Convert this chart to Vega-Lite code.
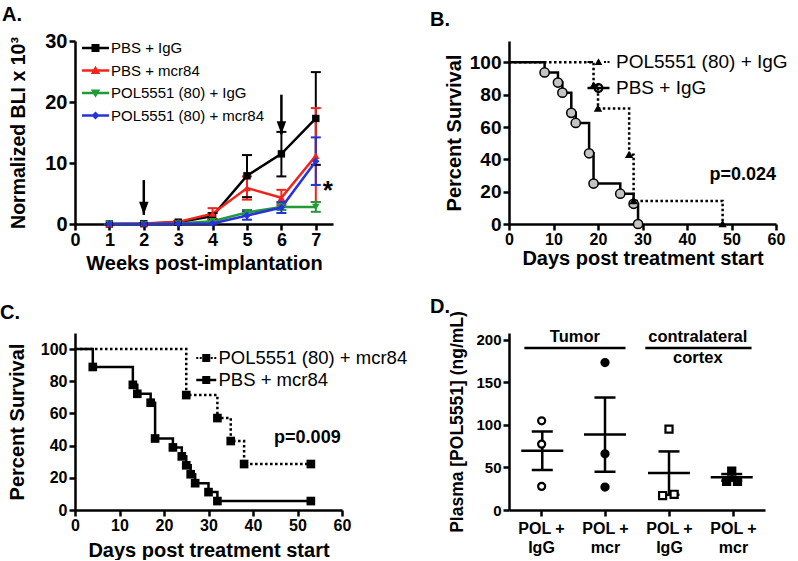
{
  "$schema": "https://vega.github.io/schema/vega-lite/v6.json",
  "background": "white",
  "padding": {"left": 0, "top": 5, "right": 0, "bottom": 0},
  "config": {
    "font": "Liberation Sans",
    "view": {"stroke": null},
    "axis": {"grid": false, "domainColor": "black", "domainWidth": 2.5, "tickColor": "black", "tickWidth": 2.5, "tickSize": 6, "tickCount": 20, "format": "d", "labelColor": "black", "labelFont": "Liberation Sans", "labelFontWeight": "bold", "labelFontSize": 16, "labelPadding": 1, "titleColor": "black", "titleFont": "Liberation Sans", "titleFontWeight": "bold", "titleFontSize": 20, "labelFlush": false, "labelOverlap": false},
    "legend": {"labelColor": "black", "labelFont": "Liberation Sans", "labelFontWeight": "normal", "symbolStrokeWidth": 0, "labelLimit": 400},
    "title": {"anchor": "start", "frame": "group", "font": "Liberation Sans", "fontSize": 20, "fontWeight": "bold", "color": "black"}
  },
  "resolve": {"scale": {"color": "independent", "fill": "independent", "shape": "independent", "size": "independent", "strokeDash": "independent"}},
  "datasets": {
    "bli": [
      {"week": 1, "series": "PBS + IgG", "mean": 0, "lo": 0, "hi": 0},
      {"week": 2, "series": "PBS + IgG", "mean": 0.05, "lo": 0, "hi": 0.1},
      {"week": 3, "series": "PBS + IgG", "mean": 0.3, "lo": 0.2, "hi": 0.45},
      {"week": 4, "series": "PBS + IgG", "mean": 1.3, "lo": 0.8, "hi": 1.8},
      {"week": 5, "series": "PBS + IgG", "mean": 7.9, "lo": 4.4, "hi": 11.3},
      {"week": 6, "series": "PBS + IgG", "mean": 11.5, "lo": 7.8, "hi": 15.1},
      {"week": 7, "series": "PBS + IgG", "mean": 17.3, "lo": 9.7, "hi": 24.9},
      {"week": 1, "series": "PBS + mcr84", "mean": 0, "lo": 0, "hi": 0},
      {"week": 2, "series": "PBS + mcr84", "mean": 0.1, "lo": 0.05, "hi": 0.15},
      {"week": 3, "series": "PBS + mcr84", "mean": 0.35, "lo": 0.2, "hi": 0.5},
      {"week": 4, "series": "PBS + mcr84", "mean": 1.7, "lo": 0.8, "hi": 2.6},
      {"week": 5, "series": "PBS + mcr84", "mean": 5.9, "lo": 4.0, "hi": 7.8},
      {"week": 6, "series": "PBS + mcr84", "mean": 4.3, "lo": 3.0, "hi": 5.6},
      {"week": 7, "series": "PBS + mcr84", "mean": 11.2, "lo": 3.6, "hi": 19.0},
      {"week": 1, "series": "POL5551 (80) + IgG", "mean": 0, "lo": 0, "hi": 0},
      {"week": 2, "series": "POL5551 (80) + IgG", "mean": 0, "lo": 0, "hi": 0},
      {"week": 3, "series": "POL5551 (80) + IgG", "mean": 0.1, "lo": 0.05, "hi": 0.15},
      {"week": 4, "series": "POL5551 (80) + IgG", "mean": 0.45, "lo": 0.25, "hi": 0.65},
      {"week": 5, "series": "POL5551 (80) + IgG", "mean": 1.9, "lo": 1.5, "hi": 2.3},
      {"week": 6, "series": "POL5551 (80) + IgG", "mean": 2.8, "lo": 2.3, "hi": 3.3},
      {"week": 7, "series": "POL5551 (80) + IgG", "mean": 2.8, "lo": 2.0, "hi": 3.6},
      {"week": 1, "series": "POL5551 (80) + mcr84", "mean": 0, "lo": 0, "hi": 0},
      {"week": 2, "series": "POL5551 (80) + mcr84", "mean": 0, "lo": 0, "hi": 0},
      {"week": 3, "series": "POL5551 (80) + mcr84", "mean": 0.05, "lo": 0.02, "hi": 0.08},
      {"week": 4, "series": "POL5551 (80) + mcr84", "mean": 0.1, "lo": 0.05, "hi": 0.15},
      {"week": 5, "series": "POL5551 (80) + mcr84", "mean": 1.4, "lo": 0.7, "hi": 2.1},
      {"week": 6, "series": "POL5551 (80) + mcr84", "mean": 2.7, "lo": 1.8, "hi": 3.6},
      {"week": 7, "series": "POL5551 (80) + mcr84", "mean": 10.3, "lo": 6.4, "hi": 14.2}
    ],
    "arrows": [
      {"week": 2, "top": 7.2, "tip": 1.5},
      {"week": 6, "top": 21.2, "tip": 14.7}
    ],
    "stars": [{"x": 7.35, "y": 5.4, "label": "*"}],
    "pvals": [
      {"panel": "B", "x": 60, "y": 30.5, "label": "p=0.024"},
      {"panel": "C", "x": 59.7, "y": 44.7, "label": "p=0.009"}
    ],
    "kmB": [
      {"grp": "PBS + IgG", "day": 0, "pct": 100, "m": 0},
      {"grp": "PBS + IgG", "day": 8, "pct": 93.75, "m": 1},
      {"grp": "PBS + IgG", "day": 11, "pct": 87.5, "m": 1},
      {"grp": "PBS + IgG", "day": 12, "pct": 81.25, "m": 1},
      {"grp": "PBS + IgG", "day": 14, "pct": 68.75, "m": 1},
      {"grp": "PBS + IgG", "day": 15, "pct": 62.5, "m": 1},
      {"grp": "PBS + IgG", "day": 18, "pct": 43.75, "m": 1},
      {"grp": "PBS + IgG", "day": 19, "pct": 25, "m": 1},
      {"grp": "PBS + IgG", "day": 25, "pct": 18.75, "m": 1},
      {"grp": "PBS + IgG", "day": 28, "pct": 12.5, "m": 1},
      {"grp": "PBS + IgG", "day": 29, "pct": 0, "m": 1},
      {"grp": "POL5551 (80) + IgG", "day": 0, "pct": 100, "m": 0},
      {"grp": "POL5551 (80) + IgG", "day": 19, "pct": 85.71, "m": 1},
      {"grp": "POL5551 (80) + IgG", "day": 20, "pct": 71.43, "m": 1},
      {"grp": "POL5551 (80) + IgG", "day": 27, "pct": 42.86, "m": 1},
      {"grp": "POL5551 (80) + IgG", "day": 28, "pct": 14.29, "m": 1},
      {"grp": "POL5551 (80) + IgG", "day": 48, "pct": 0, "m": 1}
    ],
    "kmC": [
      {"grp": "PBS + mcr84", "day": 0, "pct": 100, "m": 0},
      {"grp": "PBS + mcr84", "day": 4, "pct": 88.89, "m": 1},
      {"grp": "PBS + mcr84", "day": 13, "pct": 77.78, "m": 1},
      {"grp": "PBS + mcr84", "day": 14, "pct": 72.22, "m": 1},
      {"grp": "PBS + mcr84", "day": 17, "pct": 66.67, "m": 1},
      {"grp": "PBS + mcr84", "day": 18, "pct": 44.44, "m": 1},
      {"grp": "PBS + mcr84", "day": 22, "pct": 38.89, "m": 1},
      {"grp": "PBS + mcr84", "day": 24, "pct": 33.33, "m": 1},
      {"grp": "PBS + mcr84", "day": 25, "pct": 27.78, "m": 1},
      {"grp": "PBS + mcr84", "day": 26, "pct": 22.22, "m": 1},
      {"grp": "PBS + mcr84", "day": 27, "pct": 16.67, "m": 1},
      {"grp": "PBS + mcr84", "day": 30, "pct": 11.11, "m": 1},
      {"grp": "PBS + mcr84", "day": 32, "pct": 5.56, "m": 1},
      {"grp": "PBS + mcr84", "day": 53, "pct": 5.56, "m": 1},
      {"grp": "POL5551 (80) + mcr84", "day": 0, "pct": 100, "m": 0},
      {"grp": "POL5551 (80) + mcr84", "day": 25, "pct": 71.43, "m": 1},
      {"grp": "POL5551 (80) + mcr84", "day": 32, "pct": 57.14, "m": 1},
      {"grp": "POL5551 (80) + mcr84", "day": 35, "pct": 42.86, "m": 1},
      {"grp": "POL5551 (80) + mcr84", "day": 38, "pct": 28.57, "m": 1},
      {"grp": "POL5551 (80) + mcr84", "day": 53, "pct": 28.57, "m": 1}
    ],
    "plasma": [
      {"cond": "c1", "xpos": 1.01, "value": 104.9},
      {"cond": "c1", "xpos": 1.01, "value": 77.5},
      {"cond": "c1", "xpos": 1.01, "value": 27.8},
      {"cond": "c2", "xpos": 2.0, "value": 173.4},
      {"cond": "c2", "xpos": 2.0, "value": 66.1},
      {"cond": "c2", "xpos": 2.0, "value": 27.0},
      {"cond": "c3", "xpos": 3.0, "value": 95.1},
      {"cond": "c3", "xpos": 2.9, "value": 17.0},
      {"cond": "c3", "xpos": 3.08, "value": 18.5},
      {"cond": "c4", "xpos": 3.98, "value": 45.8},
      {"cond": "c4", "xpos": 3.9, "value": 33.7},
      {"cond": "c4", "xpos": 4.07, "value": 33.7}
    ],
    "plasmaStats": [
      {"cond": "c1", "pos": 1.02, "mean": 69.7, "lo": 47.0, "hi": 92.4},
      {"cond": "c2", "pos": 2.0, "mean": 88.8, "lo": 45.0, "hi": 132.3},
      {"cond": "c3", "pos": 3.0, "mean": 43.4, "lo": 17.9, "hi": 68.9},
      {"cond": "c4", "pos": 3.98, "mean": 38.4, "lo": 34.5, "hi": 42.3}
    ],
    "groupsD": [
      {"label": "Tumor", "x1": 0.74, "x2": 2.32, "xc": 1.53, "yl": 190.6, "yt": 194.5},
      {"label": "contralateral|cortex", "x1": 2.63, "x2": 4.29, "xc": 3.45, "yl": 190.6, "yt": 194.5}
    ]
  },
  "columns": 2,
  "spacing": {"row": 109, "column": 167},
  "bounds": "flush",
  "concat": [
    {
      "width": 258,
      "height": 183,
      "title": {"text": "A.", "dx": -73, "offset": 6},
      "layer": [
        {
          "data": {"name": "bli"},
          "encoding": {
            "x": {"field": "week", "type": "quantitative", "scale": {"domain": [0, 7.5], "nice": false},
                  "axis": {"values": [0, 1, 2, 3, 4, 5, 6, 7], "tickCount": 20, "format": "d", "title": "Weeks post-implantation", "labelFontSize": 18, "titlePadding": 4, "labelPadding": 1, "labelOverlap": false, "labelFlush": false}},
            "color": {"field": "series", "type": "nominal",
                      "scale": {"domain": ["PBS + IgG", "PBS + mcr84", "POL5551 (80) + IgG", "POL5551 (80) + mcr84"], "range": ["#000000", "#f2231c", "#23993a", "#2433dc"]},
                      "legend": null}
          },
          "layer": [
            {"mark": {"type": "rule", "strokeWidth": 2},
             "encoding": {"y": {"field": "lo", "type": "quantitative", "scale": {"domain": [0, 30], "nice": false},
                                "axis": {"values": [0, 10, 20, 30], "tickCount": 20, "format": "d", "title": "Normalized BLI x 10³", "labelFontSize": 20, "titleFontSize": 19.5, "titlePadding": 16, "labelPadding": 2, "labelOverlap": false}},
                          "y2": {"field": "hi"}}},
            {"mark": {"type": "tick", "orient": "horizontal", "size": 10, "thickness": 2, "opacity": 1},
             "encoding": {"y": {"field": "lo", "type": "quantitative"}}},
            {"mark": {"type": "tick", "orient": "horizontal", "size": 10, "thickness": 2, "opacity": 1},
             "encoding": {"y": {"field": "hi", "type": "quantitative"}}},
            {"mark": {"type": "line", "strokeWidth": 2.5},
             "encoding": {"y": {"field": "mean", "type": "quantitative"}}},
            {"mark": {"type": "point", "filled": true, "opacity": 1, "size": 55},
             "encoding": {"y": {"field": "mean", "type": "quantitative"},
                          "shape": {"field": "series", "type": "nominal",
                                    "scale": {"domain": ["PBS + IgG", "PBS + mcr84", "POL5551 (80) + IgG", "POL5551 (80) + mcr84"], "range": ["square", "triangle-up", "triangle-down", "diamond"]},
                                    "legend": null}}}
          ]
        },
        {
          "data": {"name": "arrows"},
          "layer": [
            {"mark": {"type": "rule", "strokeWidth": 2.5, "color": "black"},
             "encoding": {"x": {"field": "week", "type": "quantitative"}, "y": {"field": "top", "type": "quantitative"}, "y2": {"field": "tip"}}},
            {"mark": {"type": "point", "shape": "M0,0L-0.95,-2.6L0.95,-2.6Z", "size": 100, "filled": true, "color": "black", "opacity": 1},
             "encoding": {"x": {"field": "week", "type": "quantitative"}, "y": {"field": "tip", "type": "quantitative"}}}
          ]
        },
        {
          "data": {"name": "stars"},
          "mark": {"type": "text", "fontSize": 26, "fontWeight": "bold", "color": "black"},
          "encoding": {"x": {"field": "x", "type": "quantitative"}, "y": {"field": "y", "type": "quantitative"}, "text": {"field": "label"}}
        },
        {
          "data": {"name": "bli"},
          "transform": [{"filter": "false"}],
          "mark": {"type": "point", "filled": true, "opacity": 1, "size": 100},
          "encoding": {
            "color": {"field": "series", "type": "nominal",
                      "scale": {"domain": ["PBS + IgG", "PBS + mcr84", "POL5551 (80) + IgG", "POL5551 (80) + mcr84"], "range": ["#000000", "#f2231c", "#23993a", "#2433dc"]},
                      "legend": {"orient": "none", "legendX": 13, "legendY": -0.5, "title": null, "labelFontSize": 15, "symbolSize": 100, "symbolStrokeWidth": 0, "labelOffset": 8, "rowPadding": 6.5, "padding": 0, "labelLimit": 400}},
            "shape": {"field": "series", "type": "nominal",
                      "scale": {"domain": ["PBS + IgG", "PBS + mcr84", "POL5551 (80) + IgG", "POL5551 (80) + mcr84"],
                                "range": ["M-2.7,-0.25V0.25H2.7V-0.25Z M-0.8,-0.8V0.8H0.8V-0.8Z",
                                          "M-2.7,-0.25V0.25H2.7V-0.25Z M0,-0.95L-0.95,0.7L0.95,0.7Z",
                                          "M-2.7,-0.25V0.25H2.7V-0.25Z M0,0.95L0.95,-0.7L-0.95,-0.7Z",
                                          "M-2.7,-0.25V0.25H2.7V-0.25Z M0,-0.8L-0.8,0L0,0.8L0.8,0Z"]},
                      "legend": {"orient": "none", "legendX": 13, "legendY": -0.5, "title": null, "labelFontSize": 15, "symbolSize": 100, "symbolStrokeWidth": 0, "labelOffset": 8, "rowPadding": 6.5, "padding": 0, "labelLimit": 400}}
          }
        }
      ],
      "resolve": {"scale": {"color": "independent", "shape": "independent"}}
    },
    {
      "width": 267,
      "height": 183,
      "title": {"text": "B.", "dx": -79, "offset": 11},
      "layer": [
        {
          "data": {"name": "kmB"},
          "encoding": {
            "x": {"field": "day", "type": "quantitative", "scale": {"domain": [0, 60], "nice": false},
                  "axis": {"values": [0, 10, 20, 30, 40, 50, 60], "tickCount": 20, "format": "d", "title": "Days post treatment start", "titlePadding": 1, "labelOverlap": false, "labelFlush": false}},
            "y": {"field": "pct", "type": "quantitative", "scale": {"domain": [0, 113.2], "nice": false},
                  "axis": {"values": [0, 20, 40, 60, 80, 100], "tickCount": 20, "format": "d", "title": "Percent Survival", "labelFontSize": 19, "titlePadding": 5, "labelPadding": 2, "labelOverlap": false}}
          },
          "layer": [
            {"mark": {"type": "line", "interpolate": "step-after", "strokeWidth": 2.5, "color": "black"},
             "encoding": {"strokeDash": {"field": "grp", "type": "nominal", "scale": {"domain": ["POL5551 (80) + IgG", "PBS + IgG"], "range": [[2.5, 2.5], [1, 0]]}, "legend": null}}},
            {"transform": [{"filter": "datum.m == 1"}],
             "mark": {"type": "point", "opacity": 1, "stroke": "black", "strokeWidth": 1.5},
             "encoding": {
               "shape": {"field": "grp", "type": "nominal", "scale": {"domain": ["POL5551 (80) + IgG", "PBS + IgG"], "range": ["triangle-up", "circle"]}, "legend": null},
               "fill": {"field": "grp", "type": "nominal", "scale": {"domain": ["POL5551 (80) + IgG", "PBS + IgG"], "range": ["black", "#c4c4c4"]}, "legend": null},
               "size": {"field": "grp", "type": "nominal", "scale": {"domain": ["POL5551 (80) + IgG", "PBS + IgG"], "range": [35, 85]}, "legend": null}
             }}
          ]
        },
        {
          "data": {"name": "pvals"},
          "transform": [{"filter": "datum.panel == 'B'"}],
          "mark": {"type": "text", "align": "right", "fontSize": 18, "fontWeight": "bold", "color": "black"},
          "encoding": {"x": {"field": "x", "type": "quantitative"}, "y": {"field": "y", "type": "quantitative"}, "text": {"field": "label"}}
        },
        {
          "data": {"name": "kmB"},
          "transform": [{"filter": "false"}],
          "mark": {"type": "point", "filled": true, "opacity": 1, "size": 100, "color": "black"},
          "encoding": {
            "shape": {"field": "grp", "type": "nominal",
                      "scale": {"domain": ["POL5551 (80) + IgG", "PBS + IgG"],
                                "range": ["M-2.2,-0.2V0.2H-1.8V-0.2Z M-1.5,-0.2V0.2H-1.1V-0.2Z M1.1,-0.2V0.2H1.5V-0.2Z M1.8,-0.2V0.2H2.2V-0.2Z M0,-0.75L-0.75,0.6L0.75,0.6Z",
                                          "M-2.2,-0.25V0.25H2.2V-0.25Z M-1,0A1,1 0 1,0 1,0A1,1 0 1,0 -1,0Z M-0.6,0A0.6,0.6 0 1,1 0.6,0A0.6,0.6 0 1,1 -0.6,0Z"]},
                      "legend": {"orient": "none", "legendX": 80, "legendY": 11.5, "title": null, "labelFontSize": 19, "symbolSize": 100, "symbolStrokeWidth": 0, "labelOffset": 8, "rowPadding": 6, "padding": 0, "labelLimit": 400}}
          }
        }
      ],
      "resolve": {"scale": {"shape": "independent"}}
    },
    {
      "width": 267,
      "height": 177,
      "title": {"text": "C.", "dx": -75, "offset": 10},
      "layer": [
        {
          "data": {"name": "kmC"},
          "encoding": {
            "x": {"field": "day", "type": "quantitative", "scale": {"domain": [0, 60], "nice": false},
                  "axis": {"values": [0, 10, 20, 30, 40, 50, 60], "tickCount": 20, "format": "d", "title": "Days post treatment start", "titlePadding": 7, "labelOverlap": false, "labelFlush": false}},
            "y": {"field": "pct", "type": "quantitative", "scale": {"domain": [0, 110], "nice": false},
                  "axis": {"values": [0, 20, 40, 60, 80, 100], "tickCount": 20, "format": "d", "title": "Percent Survival", "titlePadding": 13, "labelPadding": 2, "labelOverlap": false}}
          },
          "layer": [
            {"mark": {"type": "line", "interpolate": "step-after", "strokeWidth": 2.5, "color": "black"},
             "encoding": {"strokeDash": {"field": "grp", "type": "nominal", "scale": {"domain": ["POL5551 (80) + mcr84", "PBS + mcr84"], "range": [[2.5, 2.5], [1, 0]]}, "legend": null}}},
            {"transform": [{"filter": "datum.m == 1"}],
             "mark": {"type": "point", "shape": "square", "filled": true, "opacity": 1, "color": "black", "size": 75}}
          ]
        },
        {
          "data": {"name": "pvals"},
          "transform": [{"filter": "datum.panel == 'C'"}],
          "mark": {"type": "text", "align": "right", "fontSize": 18, "fontWeight": "bold", "color": "black"},
          "encoding": {"x": {"field": "x", "type": "quantitative"}, "y": {"field": "y", "type": "quantitative"}, "text": {"field": "label"}}
        },
        {
          "data": {"name": "kmC"},
          "transform": [{"filter": "false"}],
          "mark": {"type": "point", "filled": true, "opacity": 1, "size": 100, "color": "black"},
          "encoding": {
            "shape": {"field": "grp", "type": "nominal",
                      "scale": {"domain": ["POL5551 (80) + mcr84", "PBS + mcr84"],
                                "range": ["M-2,-0.2V0.2H-1.6V-0.2Z M-1.3,-0.2V0.2H-0.9V-0.2Z M0.9,-0.2V0.2H1.3V-0.2Z M1.6,-0.2V0.2H2V-0.2Z M-0.8,-0.8V0.8H0.8V-0.8Z",
                                          "M-2,-0.25V0.25H2V-0.25Z M-0.8,-0.8V0.8H0.8V-0.8Z"]},
                      "legend": {"orient": "none", "legendX": 122, "legendY": 15.75, "title": null, "labelFontSize": 18.5, "symbolSize": 100, "symbolStrokeWidth": 0, "labelOffset": 3, "rowPadding": 3, "padding": 0, "labelLimit": 400}}
          }
        }
      ],
      "resolve": {"scale": {"shape": "independent"}}
    },
    {
      "width": 256,
      "height": 177,
      "title": {"text": "D.", "dx": -79, "offset": -6},
      "layer": [
        {
          "data": {"name": "plasmaStats"},
          "encoding": {
            "x": {"field": "pos", "type": "quantitative", "scale": {"domain": [0.5, 4.5], "nice": false},
                  "axis": {"values": [1, 2, 3, 4], "tickCount": 20, "title": null, "labelFontSize": 16, "labelLineHeight": 19, "labelPadding": 4, "labelOverlap": false, "labelFlush": false,
                           "labelExpr": "datum.value == 1 ? ['POL +', 'IgG'] : datum.value == 2 ? ['POL +', 'mcr'] : datum.value == 3 ? ['POL +', 'IgG'] : ['POL +', 'mcr']"}}
          },
          "layer": [
            {"mark": {"type": "rule", "strokeWidth": 2.5, "color": "black"},
             "encoding": {"y": {"field": "lo", "type": "quantitative", "scale": {"domain": [0, 208.2], "nice": false},
                                "axis": {"values": [0, 50, 100, 150, 200], "tickCount": 20, "format": "d", "title": "Plasma [POL5551] (ng/mL)", "labelFontSize": 15, "titleFontSize": 17.5, "titlePadding": 9, "labelPadding": 2, "labelOverlap": false}},
                          "y2": {"field": "hi"}}},
            {"mark": {"type": "tick", "orient": "horizontal", "size": 42, "thickness": 2.5, "color": "black", "opacity": 1},
             "encoding": {"y": {"field": "mean", "type": "quantitative"}}},
            {"mark": {"type": "tick", "orient": "horizontal", "size": 21, "thickness": 2.5, "color": "black", "opacity": 1},
             "encoding": {"y": {"field": "lo", "type": "quantitative"}}},
            {"mark": {"type": "tick", "orient": "horizontal", "size": 21, "thickness": 2.5, "color": "black", "opacity": 1},
             "encoding": {"y": {"field": "hi", "type": "quantitative"}}}
          ]
        },
        {
          "data": {"name": "plasma"},
          "mark": {"type": "point", "opacity": 1, "stroke": "black", "strokeWidth": 2.2, "size": 50},
          "encoding": {
            "x": {"field": "xpos", "type": "quantitative"},
            "y": {"field": "value", "type": "quantitative"},
            "shape": {"field": "cond", "type": "nominal", "scale": {"domain": ["c1", "c2", "c3", "c4"], "range": ["circle", "circle", "square", "square"]}, "legend": null},
            "fill": {"field": "cond", "type": "nominal", "scale": {"domain": ["c1", "c2", "c3", "c4"], "range": ["white", "black", "white", "black"]}, "legend": null}
          }
        },
        {
          "data": {"name": "groupsD"},
          "layer": [
            {"mark": {"type": "rule", "strokeWidth": 2.5, "color": "black"},
             "encoding": {"x": {"field": "x1", "type": "quantitative"}, "x2": {"field": "x2"}, "y": {"field": "yl", "type": "quantitative"}}},
            {"mark": {"type": "text", "fontSize": 16.5, "fontWeight": "bold", "baseline": "bottom", "lineBreak": "|", "lineHeight": 21.5, "color": "black"},
             "encoding": {"x": {"field": "xc", "type": "quantitative"}, "y": {"field": "yt", "type": "quantitative"}, "text": {"field": "label"}}}
          ]
        }
      ]
    }
  ]
}
